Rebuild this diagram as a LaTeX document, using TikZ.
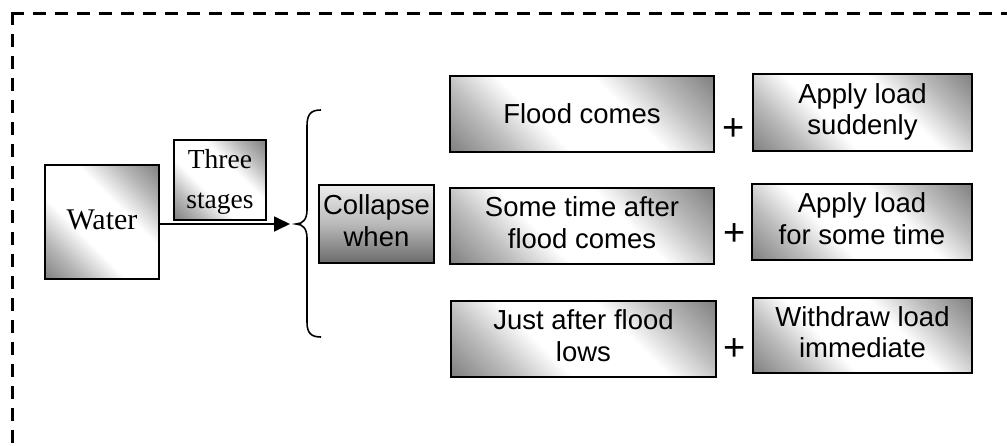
\documentclass[tikz,border=0pt]{standalone}
\usepackage{fontspec}
\setmainfont{Liberation Serif}
\newfontfamily\arialf{Liberation Sans}
\usetikzlibrary{arrows.meta}
\definecolor{shd}{gray}{0.42}
\colorlet{shdm}{shd!45!white}
\pgfdeclareverticalshading{diagsh}{100bp}{color(0bp)=(shd); color(10bp)=(shd); color(28bp)=(shdm); color(40bp)=(white); color(60bp)=(white); color(72bp)=(shdm); color(90bp)=(shd); color(100bp)=(shd)}
\newcommand\mlines[2]{\raisebox{#1}{\begin{tabular}{@{}c@{}}#2\end{tabular}}}
\tikzset{
  diag/.style={shade, shading=diagsh, shading angle=-45},
  box/.style={draw=black, line width=1.6pt, inner sep=0pt, rectangle, diag},
  sbox/.style={box, font=\arialf\fontsize{27.5}{31.6}\selectfont},
  tbox/.style={box, font=\fontsize{27.5}{40}\selectfont},
  plus/.style={font=\arialf\fontsize{38}{38}\selectfont, inner sep=0pt},
  frame/.style={line width=3pt, dash pattern=on 13pt off 9pt},
  conn/.style={line width=1.8pt, -{Triangle[length=16pt,width=15pt]}},
  bracestyle/.style={line width=1.6pt},
}
\begin{document}
\begin{tikzpicture}[x=1pt,y=-1pt]
\useasboundingbox (0,0) rectangle (1007,445);
\draw[frame] (12,12) -- (12,470) (10.5,13.5) -- (1030,13.5);

\node[tbox, minimum width=114pt, minimum height=114pt, font=\fontsize{30}{36}\selectfont] (water) at (102,222) {\raisebox{4pt}{Water}};
\node[tbox, minimum width=92pt, minimum height=78pt] (three) at (220,180) {\mlines{-4.5pt}{Three\\stages}};
\node[sbox, top color=gray!15, bottom color=black!58, middle color=gray!55, shading angle=0, minimum width=115pt, minimum height=78pt] (coll) at (376.5,224) {\mlines{2.5pt}{Collapse\\when}};

\node[sbox, minimum width=264pt, minimum height=76pt] (flood) at (582,114) {\raisebox{-2pt}{Flood comes}};
\node[sbox, minimum width=219pt, minimum height=77pt] (apply1) at (862.5,112.5) {\mlines{2pt}{Apply load\\suddenly}};
\node[sbox, minimum width=264pt, minimum height=76pt] (some) at (582,226) {\mlines{2.5pt}{Some time after\\flood comes}};
\node[sbox, minimum width=220pt, minimum height=76pt] (apply2) at (862,222) {\mlines{2pt}{Apply load\\for some time}};
\node[sbox, minimum width=265pt, minimum height=76pt] (just) at (583.5,339) {\mlines{2pt}{Just after flood\\lows}};
\node[sbox, minimum width=219pt, minimum height=75pt] (withdraw) at (862.5,335.5) {\mlines{1pt}{Withdraw load\\immediate}};

\node[plus] (p1) at (734,130) {+};
\node[plus] (p2) at (735,235) {+};
\node[plus] (p3) at (735,350) {+};

\coordinate (tip) at (290,224);
\coordinate (bt) at (296,224);
\draw[conn] (water.east |- tip) -- (tip);
\draw[bracestyle] (321,110) .. controls (311,110) and (307,114) .. (307,126) -- (307,210)
  .. controls (307,219) and (303,224) .. (bt)
  .. controls (303,224) and (307,229) .. (307,238) -- (307,322)
  .. controls (307,333) and (311,337) .. (321,337);
\end{tikzpicture}
\end{document}
